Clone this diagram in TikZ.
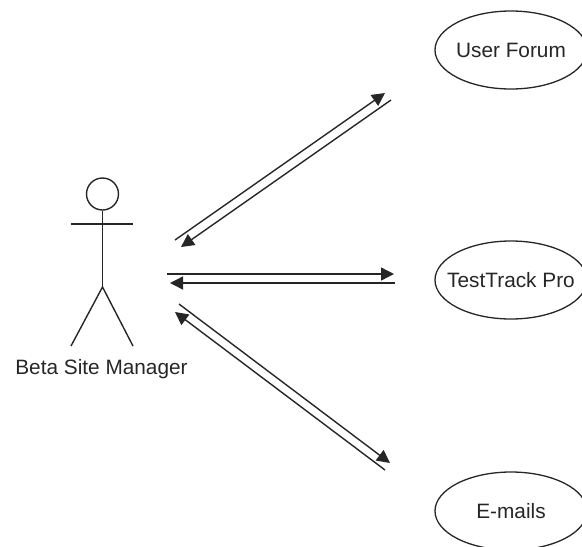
\documentclass[tikz,border=0pt]{standalone}
\usepackage{fontspec}
\setmainfont{Liberation Sans}
\usetikzlibrary{arrows.meta,shapes.geometric}
\tikzset{
  usecase/.style={ellipse, draw=black!85, line width=1.3pt, inner xsep=-12pt, inner ysep=0pt, minimum width=152pt, minimum height=78pt, font=\fontsize{20.8pt}{24pt}\selectfont, text=black!85},
  flow/.style={draw=black!85, line width=1.4pt, -{Triangle[length=13pt,width=13pt]}},
  limb/.style={draw=black!85, line width=1.4pt}
}
\begin{document}
\begin{tikzpicture}[x=1pt,y=-1pt]
  \useasboundingbox (0,0) rectangle (582,547);

  \node[usecase] (forum) at (511,50) {User Forum};
  \node[usecase] (testtrack) at (511,280) {TestTrack Pro};
  \node[usecase] (emails) at (511,511) {E-mails};

  % actor
  \node[circle, draw=black!85, line width=1.4pt, inner sep=0pt, minimum size=32pt] (head) at (102.5,194) {};
  \coordinate (hip) at (102.5,287);
  \coordinate (armL) at (71,224);
  \coordinate (armR) at (133,224);
  \coordinate (footL) at (71,346);
  \coordinate (footR) at (133,346);
  \draw[limb] (head.south) -- (hip);
  \draw[limb] (armL) -- (armR);
  \draw[limb] (footL) -- (hip) -- (footR);
  \node[font=\fontsize{20.8pt}{24pt}\selectfont, text=black!85, inner sep=0pt] (manager) at (101.5,369) {Beta Site Manager};

  % free ends of the flows
  \coordinate (upA) at (175,240);
  \coordinate (upB) at (385,93);
  \coordinate (upC) at (391,100);
  \coordinate (upD) at (181,247);
  \coordinate (midA) at (167,274);
  \coordinate (midB) at (394,274);
  \coordinate (midC) at (395,283);
  \coordinate (midD) at (170,283);
  \coordinate (lowA) at (179,304);
  \coordinate (lowB) at (390,463);
  \coordinate (lowC) at (385,470);
  \coordinate (lowD) at (175,312);

  \draw[flow] (upA) -- (upB);
  \draw[flow] (upC) -- (upD);
  \draw[flow] (midA) -- (midB);
  \draw[flow] (midC) -- (midD);
  \draw[flow] (lowA) -- (lowB);
  \draw[flow] (lowC) -- (lowD);
\end{tikzpicture}
\end{document}
